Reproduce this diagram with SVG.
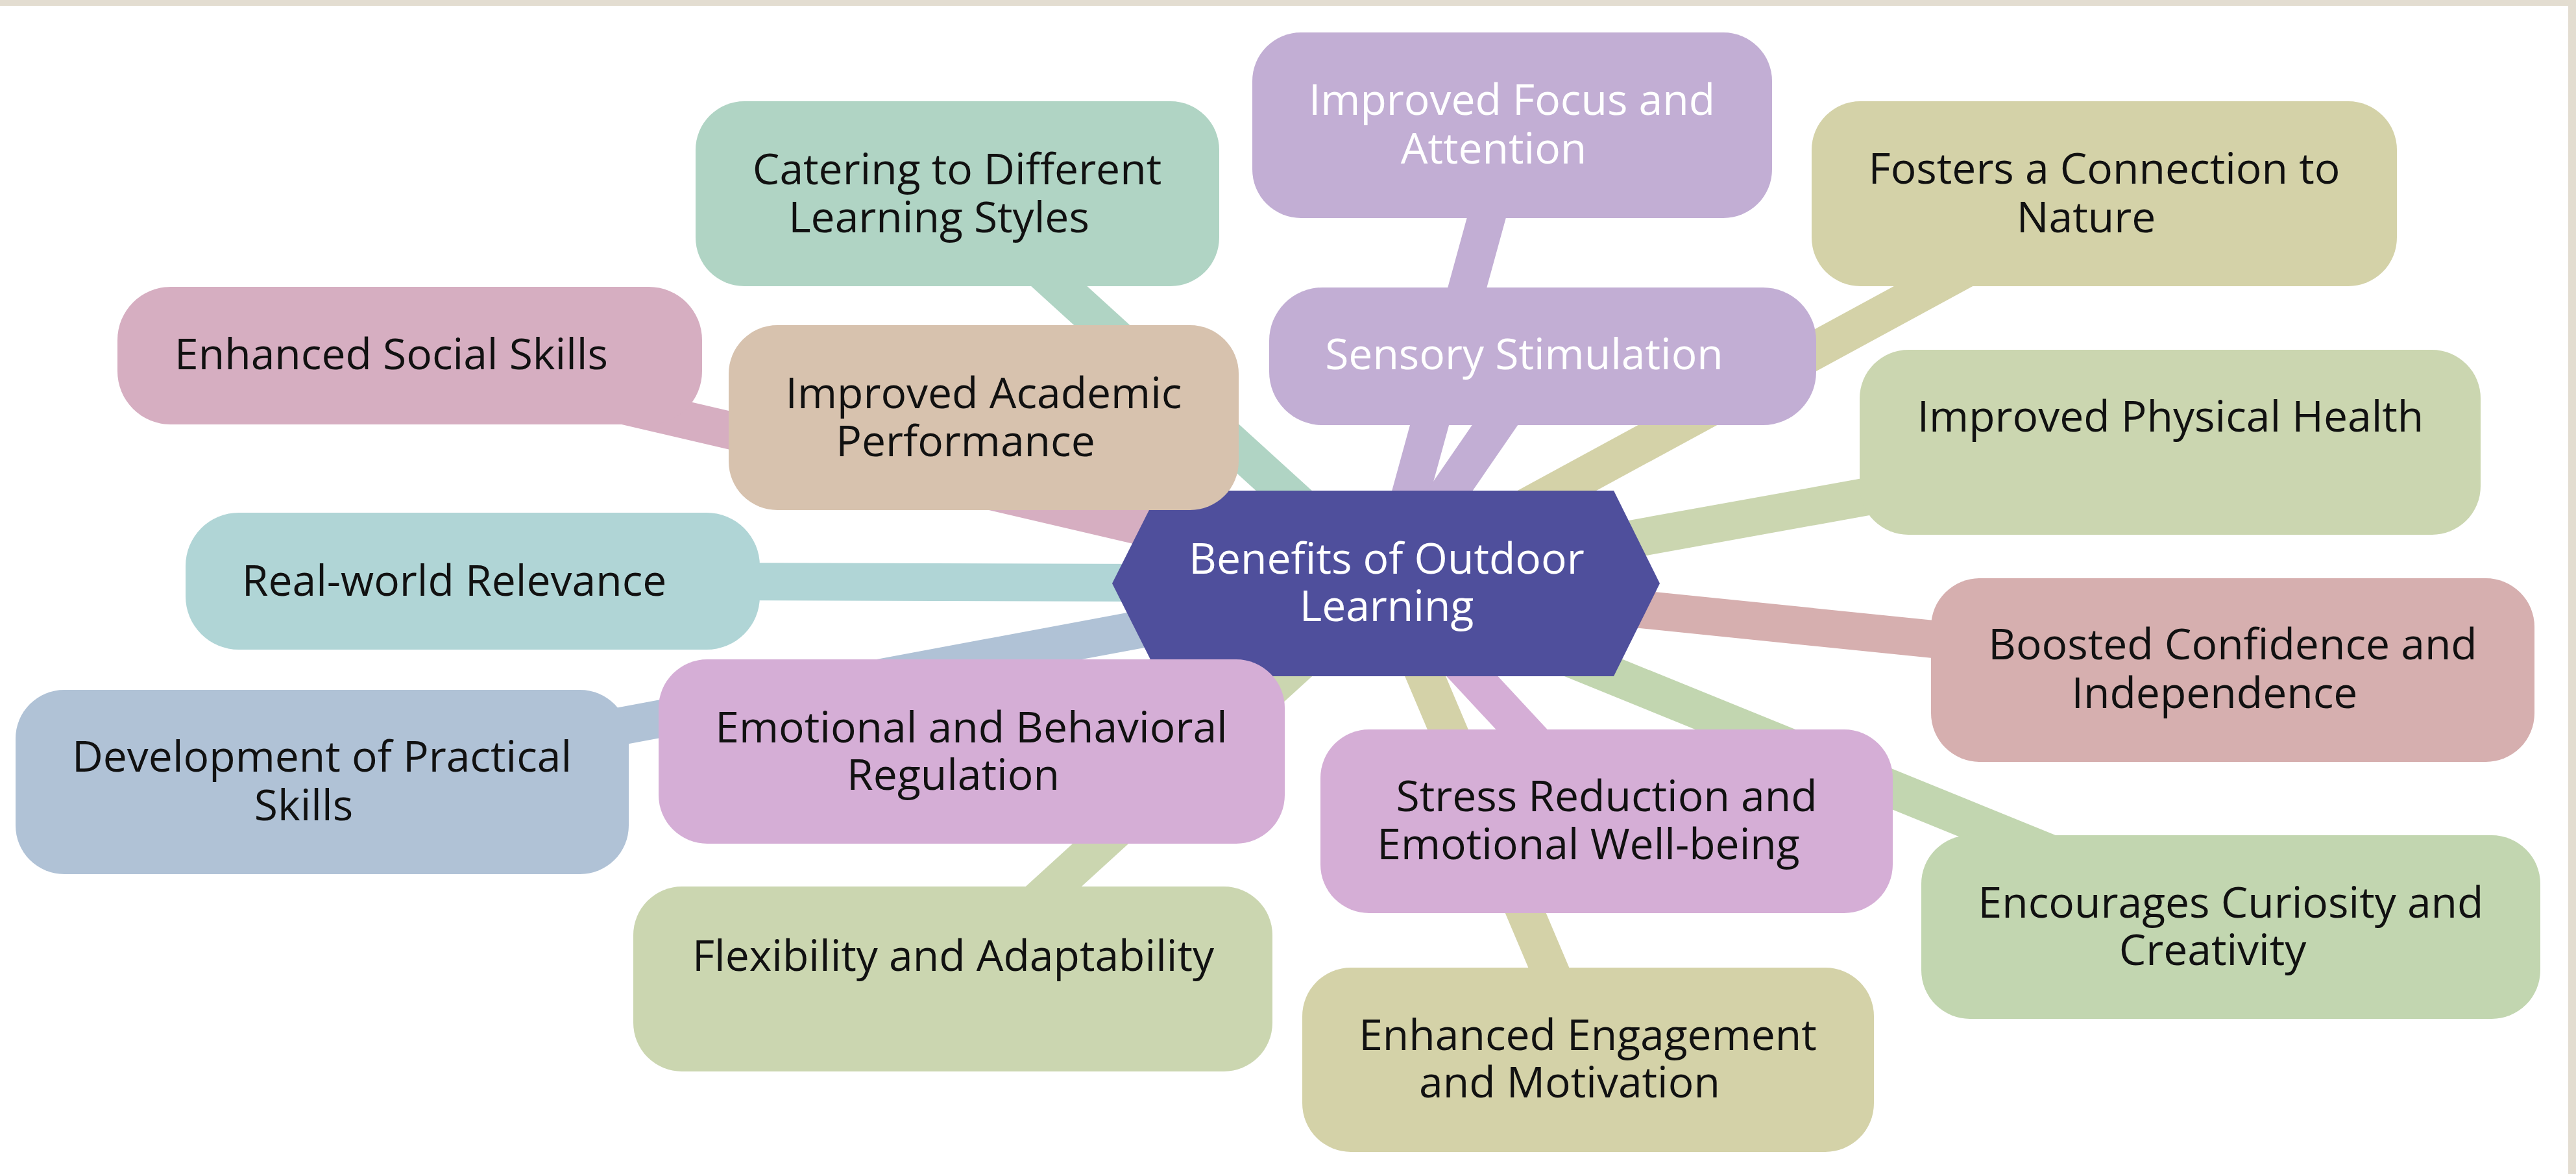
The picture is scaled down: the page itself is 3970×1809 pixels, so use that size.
<svg xmlns="http://www.w3.org/2000/svg" width="3970" height="1809" viewBox="0 0 3970 1809">
<style>
text { font-family: "Open Sans", "Noto Sans", "Liberation Sans", sans-serif; font-size: 66px; text-anchor: middle; fill: #111111; }
.w text { fill: #ffffff; }
#connectors line { stroke-width: 58; stroke-linecap: butt; fill: none; }
</style>
<rect x="0" y="0" width="3970" height="1809" fill="#ffffff"/>
<rect x="0" y="0" width="3970" height="9" fill="#e3ddd1"/>
<rect x="3958" y="0" width="12" height="1809" fill="#e3ddd1"/>

<g id="connectors">
  <line x1="2136" y1="899" x2="2330" y2="193" stroke="#c2aed4"/>
  <line x1="2136" y1="899" x2="1475" y2="298" stroke="#b0d4c4"/>
  <line x1="2136" y1="899" x2="3243" y2="298" stroke="#d4d2a8"/>
  <line x1="2136" y1="899" x2="631" y2="548" stroke="#d6aec1"/>
  <line x1="2136" y1="899" x2="1516" y2="643" stroke="#d7c2ae"/>
  <line x1="2136" y1="899" x2="2377" y2="549" stroke="#c2aed4"/>
  <line x1="2136" y1="899" x2="3344" y2="681" stroke="#cbd6b0"/>
  <line x1="2136" y1="899" x2="3441" y2="1032" stroke="#d6afaf"/>
  <line x1="2136" y1="899" x2="3438" y2="1428" stroke="#c2d6b0"/>
  <line x1="2136" y1="899" x2="728" y2="895" stroke="#b0d5d6"/>
  <line x1="2136" y1="899" x2="496" y2="1205" stroke="#b0c2d6"/>
  <line x1="2136" y1="899" x2="1497" y2="1158" stroke="#d5aed6"/>
  <line x1="2136" y1="899" x2="1468" y2="1508" stroke="#cbd6b0"/>
  <line x1="2136" y1="899" x2="2476" y2="1265" stroke="#d5aed6"/>
  <line x1="2136" y1="899" x2="2447" y2="1633" stroke="#d4d2a8"/>
</g>

<g id="center" class="w">
  <polygon points="1714,899 1786,756 2487,756 2558,899 2487,1042 1786,1042" fill="#4f4f9c"/>
  <text x="2137" y="884">Benefits of Outdoor</text>
  <text x="2137" y="957">Learning</text>
</g>

<g id="focus" class="w">
  <rect x="1930" y="50" width="801" height="286" rx="75" fill="#c2aed4"/>
  <text x="2330" y="177">Improved Focus and</text>
  <text x="2302" y="252">Attention</text>
</g>

<g id="catering">
  <rect x="1072" y="156" width="807" height="285" rx="75" fill="#b0d4c4"/>
  <text x="1475" y="284">Catering to Different</text>
  <text x="1447" y="358">Learning Styles</text>
</g>

<g id="fosters">
  <rect x="2792" y="156" width="902" height="285" rx="75" fill="#d4d2a8"/>
  <text x="3243" y="283">Fosters a Connection to</text>
  <text x="3215" y="358">Nature</text>
</g>

<g id="social">
  <rect x="181" y="442" width="901" height="212" rx="82" fill="#d6aec1"/>
  <text x="603" y="569">Enhanced Social Skills</text>
</g>

<g id="academic">
  <rect x="1123" y="501" width="786" height="285" rx="75" fill="#d7c2ae"/>
  <text x="1516" y="629">Improved Academic</text>
  <text x="1488" y="703">Performance</text>
</g>

<g id="sensory" class="w">
  <rect x="1956" y="443" width="843" height="212" rx="82" fill="#c2aed4"/>
  <text x="2349" y="569">Sensory Stimulation</text>
</g>

<g id="physical">
  <rect x="2866" y="539" width="957" height="285" rx="75" fill="#cbd6b0"/>
  <text x="3345" y="665">Improved Physical Health</text>
</g>

<g id="boosted">
  <rect x="2976" y="891" width="930" height="283" rx="75" fill="#d6afaf"/>
  <text x="3441" y="1016">Boosted Confidence and</text>
  <text x="3413" y="1091">Independence</text>
</g>

<g id="curiosity">
  <rect x="2961" y="1287" width="954" height="283" rx="75" fill="#c2d6b0"/>
  <text x="3438" y="1414">Encourages Curiosity and</text>
  <text x="3410" y="1487">Creativity</text>
</g>

<g id="realworld">
  <rect x="286" y="790" width="885" height="211" rx="82" fill="#b0d5d6"/>
  <text x="700" y="918">Real-world Relevance</text>
</g>

<g id="development">
  <rect x="24" y="1063" width="945" height="284" rx="75" fill="#b0c2d6"/>
  <text x="496" y="1189">Development of Practical</text>
  <text x="468" y="1264">Skills</text>
</g>

<g id="emotional">
  <rect x="1015" y="1016" width="965" height="284" rx="75" fill="#d5aed6"/>
  <text x="1497" y="1144">Emotional and Behavioral</text>
  <text x="1469" y="1217">Regulation</text>
</g>

<g id="flexibility">
  <rect x="976" y="1366" width="985" height="285" rx="75" fill="#cbd6b0"/>
  <text x="1469" y="1496">Flexibility and Adaptability</text>
</g>

<g id="stress">
  <rect x="2035" y="1124" width="882" height="283" rx="75" fill="#d5aed6"/>
  <text x="2476" y="1250">Stress Reduction and</text>
  <text x="2448" y="1324">Emotional Well-being</text>
</g>

<g id="engagement">
  <rect x="2007" y="1491" width="881" height="284" rx="75" fill="#d4d2a8"/>
  <text x="2447" y="1618">Enhanced Engagement</text>
  <text x="2419" y="1691">and Motivation</text>
</g>
</svg>
